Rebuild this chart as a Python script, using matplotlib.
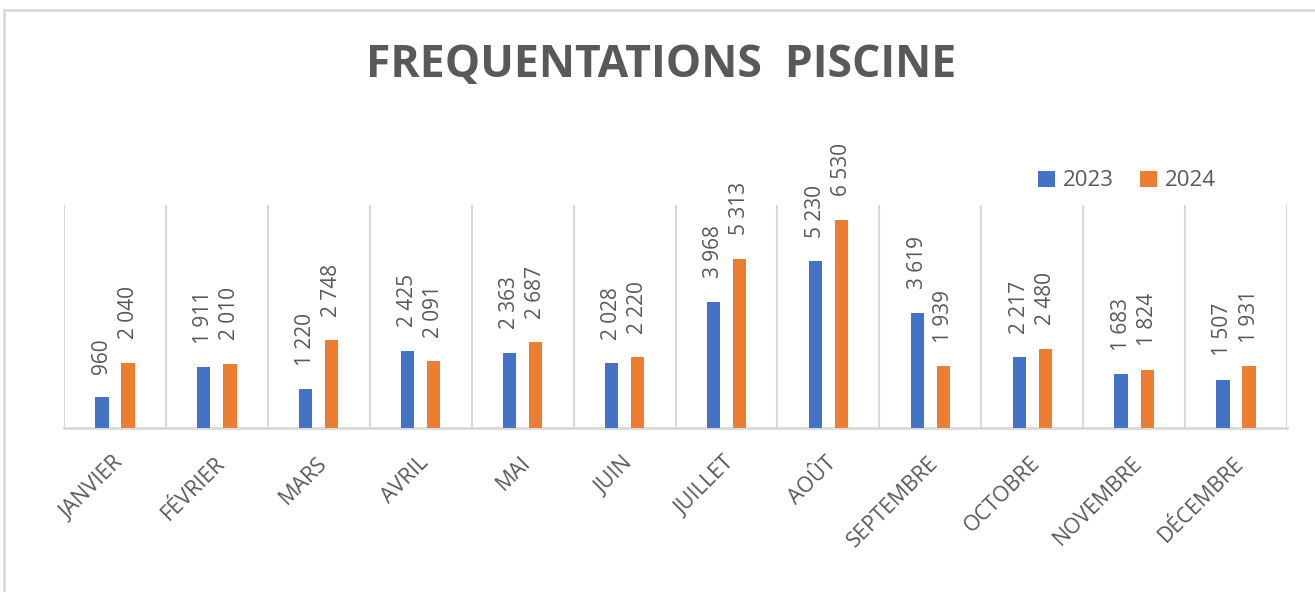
import matplotlib
matplotlib.use("Agg")
import matplotlib.pyplot as plt
from matplotlib.patches import Patch
from matplotlib.lines import Line2D
import numpy as np

months = ["JANVIER", "FÉVRIER", "MARS", "AVRIL", "MAI", "JUIN", "JUILLET",
          "AOÛT", "SEPTEMBRE", "OCTOBRE", "NOVEMBRE", "DÉCEMBRE"]
series_names = ["2023", "2024"]
values_2023 = [960, 1911, 1220, 2425, 2363, 2028, 3968, 5230, 3619, 2217, 1683, 1507]
values_2024 = [2040, 2010, 2748, 2091, 2687, 2220, 5313, 6530, 1939, 2480, 1824, 1931]

BLUE = "#4472C4"
ORANGE = "#ED7D31"
TXT = "#595959"
GRID = "#D9D9D9"
FONT = "Open Sans"

W, H = 1315, 592
fig = plt.figure(figsize=(W / 100, H / 100), dpi=100)
fig.patch.set_facecolor("white")

# outer chart frame (top and left visible)
fig.add_artist(Line2D([4 / W, 4 / W], [0, 1 - 10 / H], transform=fig.transFigure, color=GRID, lw=2))
fig.add_artist(Line2D([4 / W, 1], [1 - 10 / H, 1 - 10 / H], transform=fig.transFigure, color=GRID, lw=2))

left, right, top, bottom = 64, 1287, 205, 428
ax = fig.add_axes([left / W, 1 - bottom / H, (right - left) / W, (bottom - top) / H])

x = np.arange(len(months))
bw = 0.13
off = 0.128
b1 = ax.bar(x - off, values_2023, bw, color=BLUE, label=series_names[0], zorder=3)
b2 = ax.bar(x + off, values_2024, bw, color=ORANGE, label=series_names[1], zorder=3)

def fmt(v):
    return f"{v:,}".replace(",", " ")

for bars, vals in ((b1, values_2023), (b2, values_2024)):
    for rect, v in zip(bars, vals):
        ax.annotate(fmt(v), (rect.get_x() + rect.get_width() / 2, rect.get_height()),
                    xytext=(0, 17), textcoords="offset points", rotation=90,
                    ha="center", va="bottom", fontsize=15, color=TXT, family=FONT)

ax.set_xlim(-0.5, len(months) - 0.5)
ax.set_ylim(0, 7000)
ax.set_yticks([])
ax.set_xticks(x)
ax.set_xticklabels([])
ax.set_xticks(np.arange(-0.5, len(months), 1.0), minor=True)
ax.grid(True, which="minor", axis="x", color=GRID, lw=1.5, zorder=0)
ax.tick_params(axis="x", which="both", length=0)
for s in ("top", "left", "right"):
    ax.spines[s].set_visible(False)
ax.spines["bottom"].set_color(GRID)
ax.spines["bottom"].set_linewidth(2)

for i, m in enumerate(months):
    ax.annotate(m, (i + 0.05, 0), xytext=(0, -23), textcoords="offset points",
                rotation=45, rotation_mode="anchor", ha="right", va="center",
                fontsize=15.5, color=TXT, family=FONT)

fig.text(0.503, 1 - 66 / H, "FREQUENTATIONS  PISCINE", ha="center", va="center",
         fontsize=32, fontweight="bold", color=TXT, family=FONT)

handles = [Patch(facecolor=BLUE), Patch(facecolor=ORANGE)]
fig.legend(handles, series_names, loc="center", bbox_to_anchor=(1127 / W, 1 - 181 / H),
           ncol=2, frameon=False, handlelength=0.75, handleheight=0.75,
           handletextpad=0.35, columnspacing=1.2, labelcolor=TXT, prop={"family": FONT, "size": 16})

fig.savefig("out.png", dpi=100)
